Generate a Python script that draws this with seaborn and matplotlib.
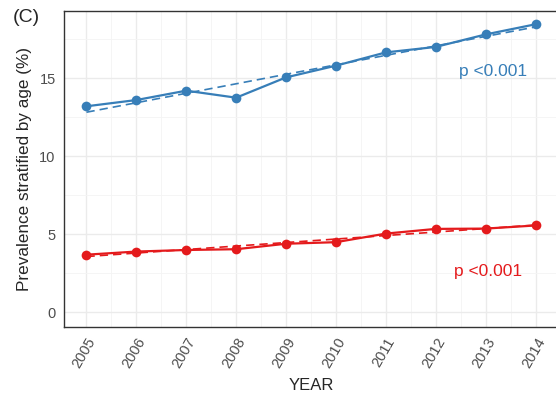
import numpy as np
import pandas as pd
import seaborn as sns
import matplotlib.pyplot as plt
import matplotlib.ticker as mticker

# valores
anos = [2005, 2006, 2007, 2008, 2009, 2010, 2011, 2012, 2013, 2014]
prev_azul = [13.2, 13.6, 14.2, 13.75, 15.05, 15.8, 16.65, 17.0, 17.8, 18.45]
prev_vermelho = [3.7, 3.9, 4.0, 4.05, 4.4, 4.5, 5.05, 5.35, 5.37, 5.57]
xticks = anos
yticks = [0, 5, 10, 15]

AZUL = "#377EB8"
VERMELHO = "#E41A1C"

df = pd.DataFrame({
    "YEAR": anos * 2,
    "prev": prev_azul + prev_vermelho,
    "grupo": ["azul"] * len(anos) + ["vermelho"] * len(anos),
})

sns.set_style("whitegrid")
plt.rcParams["font.family"] = ["Liberation Sans", "DejaVu Sans"]

fig = plt.figure(figsize=(5.56, 3.93), dpi=100)
ax = fig.add_axes([64 / 556, 66 / 393, 494 / 556, 316 / 393])

# ---- linhas de tendência (regressão linear) ----
for grupo, cor in [("azul", AZUL), ("vermelho", VERMELHO)]:
    sub = df[df["grupo"] == grupo]
    sns.regplot(data=sub, x="YEAR", y="prev", ax=ax, ci=None, scatter=False,
                line_kws=dict(color=cor, lw=1.2, ls=(0, (5, 3)), zorder=3))

# ---- séries observadas ----
sns.lineplot(data=df, x="YEAR", y="prev", hue="grupo",
             palette={"azul": AZUL, "vermelho": VERMELHO},
             marker="o", markersize=7, markeredgewidth=0, lw=1.6,
             legend=False, ax=ax, zorder=4)

ax.set_xlim(2004.55, 2014.45)
ax.set_ylim(-0.93, 19.3)
ax.xaxis.set_major_locator(mticker.FixedLocator(xticks))
ax.xaxis.set_minor_locator(mticker.MultipleLocator(0.5))
ax.yaxis.set_major_locator(mticker.FixedLocator(yticks))
ax.yaxis.set_minor_locator(mticker.MultipleLocator(2.5))
ax.set_xticklabels([str(a) for a in xticks], rotation=60, ha="right",
                   rotation_mode="anchor")

ax.grid(which="major", color="#EBEBEB", lw=1.0)
ax.grid(which="minor", color="#F4F4F4", lw=0.6)
ax.set_axisbelow(True)
for s in ax.spines.values():
    s.set_visible(True)
    s.set_color("#333333")
    s.set_linewidth(1.0)

ax.tick_params(axis="both", which="major", length=4, width=1.0,
               color="#333333", labelcolor="#4D4D4D", labelsize=10.5, pad=2)
ax.tick_params(axis="both", which="minor", length=0)

ax.set_xlabel("YEAR", fontsize=12, labelpad=5)
ax.set_ylabel("Prevalence stratified by age (%)", fontsize=12.3, labelpad=5)

ax.text(2013.14, 15.45, "p <0.001", color=AZUL, fontsize=12.5,
        ha="center", va="center")
ax.text(2013.04, 2.64, "p <0.001", color=VERMELHO, fontsize=12.5,
        ha="center", va="center")

fig.text(13 / 556, 1 - 17 / 393, "(C)", fontsize=14, ha="left", va="center")

fig.savefig("out.png", dpi=100)
